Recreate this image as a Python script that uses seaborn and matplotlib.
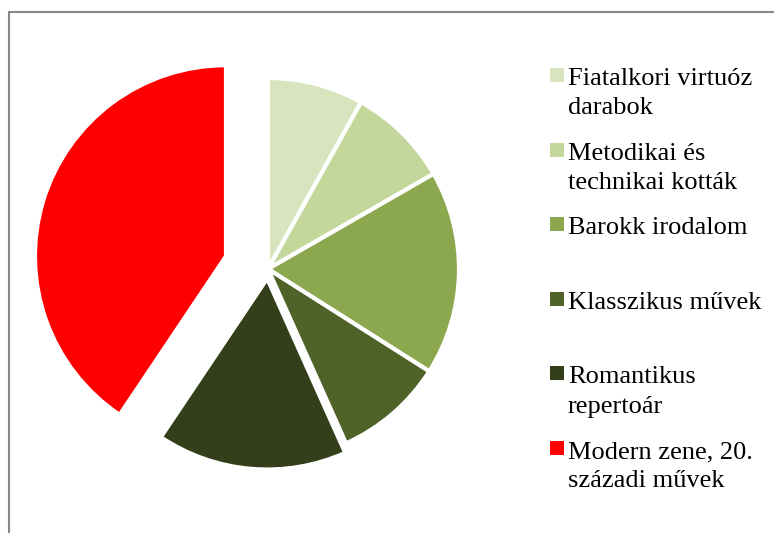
import matplotlib
matplotlib.use("Agg")
import matplotlib.pyplot as plt
from matplotlib.patches import Rectangle
import seaborn as sns

# Data (share of each category, %)
categories = ["Fiatalkori virtuóz\ndarabok",
              "Metodikai és\ntechnikai kották",
              "Barokk irodalom",
              "Klasszikus művek",
              "Romantikus\nrepertoár",
              "Modern zene, 20.\nszázadi művek"]
shares = [8.1, 8.6, 17.3, 9.3, 16.1, 40.6]
colors = ["#D7E4BD", "#C4D79B", "#8BA84F", "#4F6228", "#333F1A", "#FF0000"]
explode = [0, 0, 0, 0, 0.05, 0.23]

sns.set_style("white")
plt.rcParams['font.family'] = ['Liberation Serif', 'DejaVu Serif']

W, H = 774, 533
fig = plt.figure(figsize=(W / 100, H / 100), dpi=100)

# grey chart frame (cut off on the right and bottom)
fig.add_artist(Rectangle((9 / W, -0.1), 1.2, 1 - 12 / H + 0.1, transform=fig.transFigure,
                         fill=False, edgecolor="#878787", linewidth=1.5))

# pie axes, centred on the pie
cx, cy, R = 268, 269, 191
half = 250
ax = fig.add_axes([(cx - half) / W, 1 - (cy + half) / H, 2 * half / W, 2 * half / H])
ax.pie(shares, colors=colors, explode=explode, startangle=90, counterclock=False,
       radius=1, wedgeprops=dict(edgecolor="white", linewidth=3))
lim = half / R
ax.set_xlim(-lim, lim)
ax.set_ylim(-lim, lim)
ax.set_aspect("equal")
ax.axis("off")

# legend drawn by hand so the marker sits on the first line of each label
y0, step = 75, 74.6
for i, (lab, col) in enumerate(zip(categories, colors)):
    y = y0 + i * step
    fig.add_artist(Rectangle((550 / W, 1 - (y + 7) / H), 14 / W, 14 / H,
                             transform=fig.transFigure, facecolor=col, edgecolor="none"))
    fig.text(568 / W, 1 - (y - 7) / H, lab, fontsize=19, va="top", ha="left",
             linespacing=1.42, color="black")

fig.savefig("out.png", dpi=100)
